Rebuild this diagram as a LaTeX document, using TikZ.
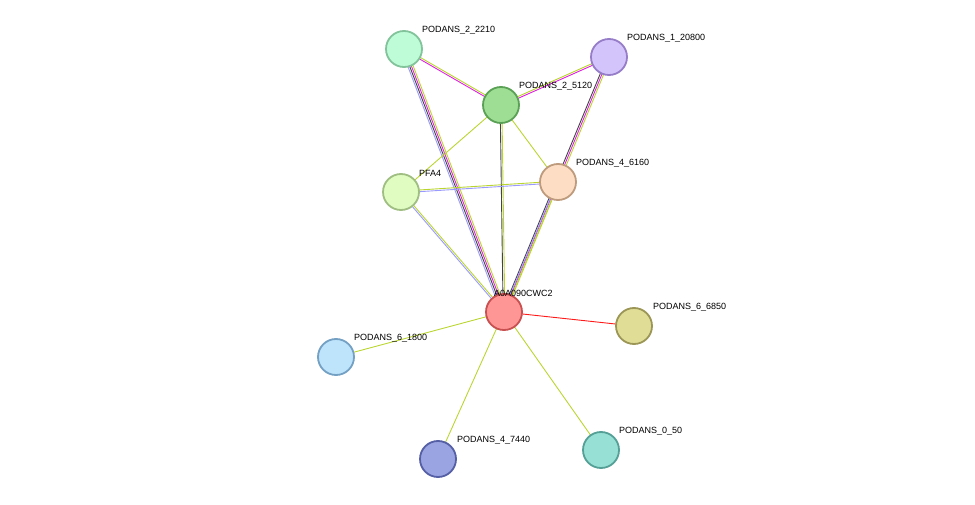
\documentclass[tikz,border=0pt]{standalone}
\usepackage{fontspec}
\setmainfont{Liberation Sans}
\usetikzlibrary{calc}
\newcommand\medge[4]{%
  \foreach \cc [count=\ii] in {#4}{%
    \pgfmathsetmacro\oo{(\ii-1-(#3-1)/2)*1.7}%
    \draw[\cc,line width=0.9pt] ($(#1)!\oo pt!90:(#2)$) -- ($(#2)!\oo pt!-90:(#1)$);
  }}
\definecolor{yg}{HTML}{BBD530}
\definecolor{mg}{HTML}{DD22DD}
\definecolor{bl}{HTML}{9999FF}
\definecolor{bk}{HTML}{444444}
\begin{document}
\begin{tikzpicture}[x=1pt,y=-1pt,
  prot/.style={circle,minimum size=36pt,inner sep=0pt,line width=1.8pt},
  lab/.style={font=\fontsize{9pt}{10pt}\selectfont,anchor=south west,inner sep=1pt}]
\useasboundingbox (0,0) rectangle (975,505);
\coordinate (A) at (504,312);
\coordinate (B) at (404,49);
\coordinate (C) at (609,57);
\coordinate (D) at (501,105);
\coordinate (E) at (558,182);
\coordinate (F) at (401,192);
\coordinate (G) at (634,326);
\coordinate (H) at (336,357);
\coordinate (I) at (438,459);
\coordinate (J) at (601,450);
\medge{B}{A}{4}{bl,bk,mg,yg}
\medge{B}{D}{2}{mg,yg}
\medge{C}{D}{2}{yg,mg}
\medge{C}{A}{3}{bk,mg,yg}
\medge{E}{A}{2}{bl,yg}
\medge{D}{A}{2}{bk,yg}
\medge{D}{F}{1}{yg}
\medge{D}{E}{1}{yg}
\medge{F}{E}{2}{bl,yg}
\medge{F}{A}{2}{bl,yg}
\draw[red!90,line width=0.9pt] (A) -- (G);
\foreach \t in {H,I,J} \draw[yg,line width=0.9pt] (A) -- (\t);
\node[prot,fill={rgb,255:red,255;green,150;blue,150},draw={rgb,255:red,200;green,80;blue,80}] (nA) at (A) {};
\node[prot,fill={rgb,255:red,190;green,252;blue,216},draw={rgb,255:red,130;green,195;blue,155}] (nB) at (B) {};
\node[prot,fill={rgb,255:red,212;green,196;blue,252},draw={rgb,255:red,150;green,125;blue,200}] (nC) at (C) {};
\node[prot,fill={rgb,255:red,158;green,222;blue,148},draw={rgb,255:red,90;green,160;blue,85}] (nD) at (D) {};
\node[prot,fill={rgb,255:red,253;green,222;blue,196},draw={rgb,255:red,190;green,155;blue,125}] (nE) at (E) {};
\node[prot,fill={rgb,255:red,224;green,252;blue,192},draw={rgb,255:red,160;green,190;blue,130}] (nF) at (F) {};
\node[prot,fill={rgb,255:red,224;green,222;blue,150},draw={rgb,255:red,155;green,150;blue,85}] (nG) at (G) {};
\node[prot,fill={rgb,255:red,190;green,228;blue,252},draw={rgb,255:red,115;green,160;blue,195}] (nH) at (H) {};
\node[prot,fill={rgb,255:red,155;green,164;blue,226},draw={rgb,255:red,85;green,95;blue,165}] (nI) at (I) {};
\node[prot,fill={rgb,255:red,150;green,224;blue,214},draw={rgb,255:red,85;green,160;blue,150}] (nJ) at (J) {};
\node[lab] (lA) at (493,298) {A0A090CWC2};
\node[lab] (lB) at (421,35) {PODANS\_2\_2210};
\node[lab] (lC) at (626,43) {PODANS\_1\_20800};
\node[lab] (lD) at (518,91) {PODANS\_2\_5120};
\node[lab] (lE) at (575,168) {PODANS\_4\_6160};
\node[lab] (lF) at (418,178) {PFA4};
\node[lab] (lG) at (652,312) {PODANS\_6\_6850};
\node[lab] (lH) at (353,343) {PODANS\_6\_1800};
\node[lab] (lI) at (456,445) {PODANS\_4\_7440};
\node[lab] (lJ) at (618,436) {PODANS\_0\_50};
\end{tikzpicture}
\end{document}
